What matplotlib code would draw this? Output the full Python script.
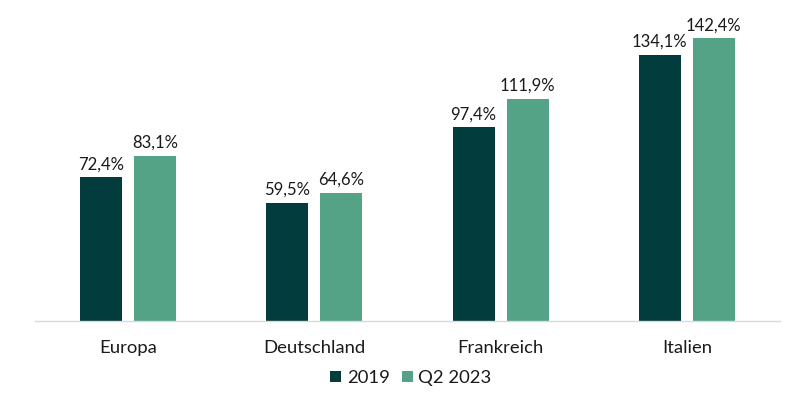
import matplotlib
matplotlib.use("Agg")
import matplotlib.pyplot as plt
import numpy as np

categories = ["Europa", "Deutschland", "Frankreich", "Italien"]
series_names = ["2019", "Q2 2023"]
values_2019 = [72.4, 59.5, 97.4, 134.1]
values_q2 = [83.1, 64.6, 111.9, 142.4]

plt.rcParams['font.family'] = ['Lato', 'DejaVu Sans']
dark = "#033C3C"
light = "#55A386"

fig = plt.figure(figsize=(8.10, 3.97), dpi=100)
ax = fig.add_axes([35/810, (397-321)/397, 745/810, 298/397])

x = np.arange(len(categories))
w = 0.225
off = 0.145
b1 = ax.bar(x - off, values_2019, w, color=dark, label=series_names[0])
b2 = ax.bar(x + off, values_q2, w, color=light, label=series_names[1])

for bars, vals in ((b1, values_2019), (b2, values_q2)):
    for b, v in zip(bars, vals):
        ax.text(b.get_x() + b.get_width()/2, v + 2.5, f"{v:.1f}%".replace(".", ","),
                ha="center", va="bottom", fontsize=12, color="#1a1a1a")

ax.set_xlim(-0.5, 3.5)
ax.set_ylim(0, 150)
ax.set_yticks([])
ax.set_xticks(x)
ax.set_xticklabels(categories, fontsize=13.3, color="#1a1a1a")
ax.tick_params(axis="x", length=0, pad=14)
for s in ["top", "right", "left"]:
    ax.spines[s].set_visible(False)
ax.spines["bottom"].set_color("#D9D9D9")
ax.spines["bottom"].set_linewidth(1)

leg = fig.legend(handles=[b1, b2], labels=series_names, loc="center",
                 bbox_to_anchor=(411/810, 1 - 378/397), ncol=2, frameon=False,
                 fontsize=13.3, handlelength=0.6, handleheight=0.6,
                 handletextpad=0.3, columnspacing=0.65)
for t in leg.get_texts():
    t.set_color("#1a1a1a")

fig.savefig("out.png", dpi=100)
